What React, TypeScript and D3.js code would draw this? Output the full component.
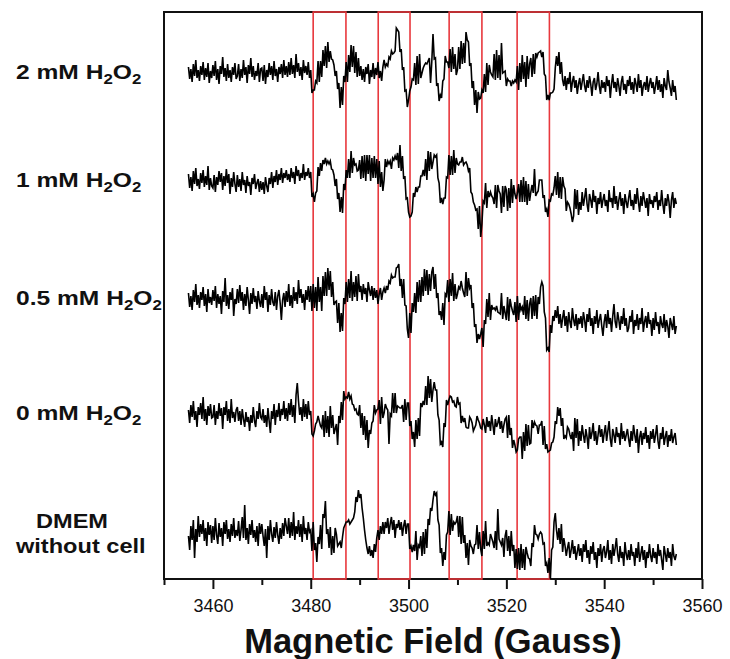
import { useEffect, useRef } from "react";
import * as d3 from "d3";

// field sampling of the spectra (Gauss)
const fieldStart = 3455;
const fieldStep = 0.25;

// stacking offset of each spectrum (a.u.)
const offsets = [0, 108, 226, 341, 460];

// intensities (a.u.), one value per 0.25 G, 3455 -> 3554.75
const spec2mM = [
  5, -7, 3, -10, 8, -4, 12, -6, 2, -9, 6, -3, 10, -8, 4, -5, 9, -11, 1, -6,
  7, -4, 11, -8, 3, -12, 6, -2, 15, -5, 4, -9, 8, -6, 2, -10, 5, -3, 9, -7,
  -4, 8, -9, 3, -6, 12, -3, 5, -11, 7, -2, 14, -5, 6, -8, 1, -4, 9, -10, 3,
  4, -9, 7, -12, 2, -5, 9, -3, 6, -8, 11, -4, 3, -10, 5, -2, 8, -6, 12, -3,
  6, -5, 10, -3, 14, -2, 7, -6, 18, 0, 9, -4, 5, -8, 12, -1, 6, -3, 10, -6,
  2, -21, -18, -18, -9, -11, 11, -10, 11, -5, 22, 6, 26, 4, 30, 10, 21, 13, 12, 7,
  -4, 1, -17, -11, -36, -15, -33, -4, -10, 10, -10, 17, 0, 27, 5, 26, -1, 20, -5, 14,
  -4, 6, -8, 3, -10, 5, -2, 8, -12, 2, -5, 9, -7, 4, -3, 10, -6, 1, -9, 5,
  12, 5, 8, 6, 15, 13, 21, 18, 19, 21, 44, 42, 40, 20, 23, 2, 5, -19, -18, -35,
  -28, -19, -15, -7, -8, 9, -13, 16, -12, 18, -6, -1, 4, 7, 9, 8, 11, 14, -11, 10,
  38, 13, 14, -14, -11, -29, -23, -26, -9, -7, 16, 10, 10, 4, 23, 0, 25, 3, 18, -3,
  2, 25, 3, 31, 8, 29, 9, 40, 32, 30, 6, 9, -16, -9, -33, -18, -41, -20, -27, -26,
  -18, -21, -2, -20, 9, -13, 7, 0, -3, -5, 18, -8, 22, -6, 17, -8, 29, -1, 0, 1,
  -14, -7, -9, -9, -14, -9, -11, -8, -10, 6, -18, 9, -10, 17, -7, 10, -15, 16, -7, 8,
  14, -5, 18, -2, 19, 15, 19, 20, 21, 15, 20, -2, -4, -28, -23, -28, -21, -21, -20, -17,
  4, 16, 6, 20, -2, 10, -8, -14, -4, -18, -6, -12, 0, -20, -10, -4, -16, -8, -22, -12,
  -6, -18, -10, -2, -14, -20, -8, -16, -4, -12, -24, -10, -6, -18, -12, 0, -14, -22, -8, -16,
  -10, -20, -4, -14, -8, -26, -12, -2, -16, -10, -20, -6, -14, -24, -10, -4, -18, -12, -22, -8,
  -14, -4, -18, -10, -22, -6, -12, -20, -2, -16, -8, -24, -14, -10, -18, -4, -20, -12, -6, -16,
  -10, -22, -14, -4, -18, -8, -20, -12, -26, -6, -14, -18, 2, -10, -16, -24, -8, -20, -14, -28,
];

const spec1mM = [
  6, -8, 3, -11, 9, -4, 12, -6, 1, -9, 7, -3, 10, -7, 4, -5, 14, -10, 2, -6,
  -8, 5, -12, 3, -5, 9, -2, 7, -10, 4, -6, 11, -3, 6, -14, 2, -7, 8, -4, -12,
  5, -7, 1, -11, 8, -5, 0, -13, 4, -6, -2, -15, 2, -4, 6, -9, -3, 1, -12, -1,
  -10, -2, -14, 3, -6, -12, 2, -4, 8, -8, 4, -2, 10, -5, 6, 0, 12, -3, 7, 2,
  10, 0, 6, -2, 12, 2, 8, -4, 14, 4, 10, -1, 7, 2, 16, 0, 8, 4, 12, 2,
  8, -17, -14, -22, -13, -11, 13, 4, 17, 9, 20, 16, 22, 16, 19, 16, 19, 11, 10, 5,
  -6, 1, -19, -13, -32, -17, -33, -4, -10, 10, 2, 21, 2, 29, 7, 22, 15, 16, 9, 10,
  20, 1, 24, 2, 25, -1, 25, 6, 25, -1, 22, 2, 24, 2, 21, -4, 19, -7, 8, -11,
  0, 21, 13, 19, 16, 19, 11, 22, 20, 24, 20, 27, 12, 35, 9, 24, 1, 4, -19, -18,
  -32, -37, -36, -32, -13, -17, -7, -12, -7, -7, 4, 4, 10, 4, 21, 0, 29, 9, 28, 11,
  18, 25, 23, 25, 2, -3, -23, -18, -24, -18, -18, 3, 2, 25, 5, 24, 5, 30, 7, 22,
  16, 15, 18, 18, 23, 15, 17, 18, 15, 9, 12, -12, -14, -22, -25, -30, -29, -49, -26, -57,
  -44, -21, -23, -3, -28, -11, -17, -12, -16, -18, -24, -5, -28, -5, -11, -14, -33, -6, -27, -6,
  -10, -31, -8, -28, 1, -23, -5, -14, -19, -13, -4, -22, 0, -22, 3, -22, -1, -25, -4, -21,
  -12, -5, -13, 11, -16, -13, -11, 0, 0, 0, -18, -15, -32, -29, -37, -20, -21, -14, -15, -8,
  4, -15, 8, -18, 3, -19, 3, -6, -9, -31, -22, -24, -28, -34, -42, -36, -9, -29, -10, -35,
  -22, -30, -12, -26, -18, -8, -24, -32, -14, -20, -28, -10, -22, -16, -34, -18, -24, -12, -28, -20,
  -14, -26, -20, -32, -10, -22, -18, -28, -6, -24, -16, -30, -20, -12, -26, -18, -34, -14, -22, -28,
  -18, -10, -26, -20, -30, -14, -24, -8, -22, -32, -16, -26, -12, -20, -28, -18, -36, -14, -24, -20,
  -28, -16, -22, -12, -30, -20, -26, -10, -24, -34, -18, -26, -14, -22, -38, -20, -12, -28, -18, -24,
];

const spec05mM = [
  5, -9, 2, -12, 8, -4, 14, -7, 3, -10, 6, -2, 11, -8, 4, -14, 9, -5, 1, -7,
  8, -3, 12, -10, 4, -6, 2, -16, 7, -4, 20, -8, 3, -11, 6, -2, 10, -18, -1, -6,
  9, -5, 13, -3, 6, -12, 4, -8, 11, -2, -16, 5, -6, 10, -4, 2, -11, 7, -3, -9,
  4, -10, 12, -2, 6, -14, 3, -7, 9, -4, -8, 6, -12, 2, 8, -5, -22, -2, 5, -9,
  7, -4, 14, -8, 3, -10, 11, -3, 6, -6, 18, 0, 9, -5, 4, -12, 8, -2, 12, -4,
  12, -13, 14, -10, 11, -13, 21, -4, 11, -13, 22, 2, 26, 2, 30, 8, 27, 1, 16, -7,
  -4, -3, -25, -5, -34, -15, -33, 0, -6, 16, -4, 19, 0, 27, -3, 16, 1, 22, -3, 24,
  6, 12, -2, 14, 4, 10, -4, 16, 8, 2, 12, -2, 10, 0, 8, -6, 4, 10, -2, 6,
  10, 5, 12, 8, 17, 15, 23, 20, 21, 21, 30, 31, 34, 12, 19, 0, 19, -7, -8, -31,
  -40, -15, -35, -5, -14, 5, -15, 16, -4, 18, -4, 21, 2, 29, 7, 28, 3, 24, 7, 26,
  31, 9, 24, 0, 5, -17, -13, -22, -5, -27, 4, 2, 18, -4, 19, 2, 25, -3, 14, -1,
  4, 11, 9, 17, 10, 5, 1, 26, 2, 20, 10, 13, -10, -5, -29, -26, -45, -36, -41, -36,
  -30, -49, -22, -26, -1, -19, 5, -22, -7, -11, -10, -12, -8, -14, -15, -16, 5, -21, -8, -15,
  -22, 1, -23, -1, -8, -13, -17, -4, -24, 2, -22, -5, -12, -9, -17, 2, -21, -2, -23, -6,
  0, -21, 2, -18, 3, -21, 1, -6, 11, 16, 12, -14, -20, -52, -50, -54, -27, -35, -18, -23,
  -12, -20, -8, -26, -16, -30, -20, -12, -28, -18, -34, -14, -24, -30, -10, -22, -28, -16, -32, -20,
  -26, -18, -30, -14, -22, -34, -16, -24, -10, -28, -20, -36, -18, -26, -12, -30, -22, -16, -28, -38,
  -24, -16, -30, -12, -26, -20, -34, -18, -6, -24, -30, -14, -22, -32, -18, -26, -10, -28, -20, -34,
  -30, -18, -24, -12, -36, -22, -28, -16, -32, -20, -26, -10, -34, -24, -18, -30, -14, -26, -22, -38,
  -20, -32, -14, -28, -24, -36, -18, -26, -30, -16, -34, -22, -28, -40, -20, -26, -32, -18, -36, -28,
];

const spec0mM = [
  3, -10, 8, -4, 12, -7, 2, -14, 6, -2, 10, -6, 16, -8, 4, -12, 7, -3, 9, -5,
  -4, 8, -12, 2, -6, 10, -3, 5, -16, 6, -2, 12, -8, 4, -10, 14, -5, 1, -9, 3,
  6, -8, 2, -12, 4, -6, -14, 1, -9, -4, -18, -2, -10, 6, -8, -14, 2, -6, 10, -4,
  -6, 4, -10, -2, -14, 5, -8, -20, 2, -6, 9, -12, 3, -4, 10, -8, 4, -2, 12, -6,
  5, -8, 10, -2, 14, -4, 8, -10, 18, 30, 12, -2, 6, -8, 14, -4, 9, -6, 12, -2,
  2, -21, -23, -18, -11, -9, -3, -8, -13, -15, -2, -24, 2, -20, -3, -24, 7, -15, -2, -21,
  -16, -11, -32, -3, -10, 11, -7, 22, 14, 16, 15, 21, 14, 17, 9, 8, 3, 4, -1, -2,
  8, -15, 0, -22, -3, -27, -7, -35, -17, -21, -10, -8, 8, 0, 3, 4, 13, -11, 16, -5,
  0, 9, 5, 3, -31, -1, -3, 20, 0, 20, 0, 7, 6, 5, 5, 8, -9, 14, -7, 10,
  10, -13, -8, -26, -19, -34, -7, -26, -5, -23, 10, 6, 12, 8, 27, 8, 37, 15, 34, 11,
  23, 31, 23, 23, -2, -7, -31, -29, -34, -10, -14, 13, 8, 13, 17, 16, 11, 12, 7, 6,
  16, 9, 10, -10, -3, -9, -5, -14, -15, -15, -4, -6, -10, -18, -15, -12, -3, -7, -10, -15,
  -16, -6, -12, -20, -4, -14, -8, -18, -2, -12, -22, -6, -14, -10, -4, -16, -8, -20, -12, -6,
  -4, -25, -2, -22, -15, -35, -27, -32, -39, -37, -26, -24, -24, -46, -19, -38, -11, -33, -12, -31,
  -30, -7, -15, -9, -12, -13, -21, -12, -12, -8, -32, -13, -36, -31, -39, -38, -37, -30, -29, -24,
  -8, -11, 6, -3, 5, -13, -5, -26, -23, -25, -14, -16, -22, -26, -19, -38, -5, -25, -6, -33,
  -18, -28, -12, -22, -30, -16, -24, -36, -14, -26, -20, -10, -28, -18, -32, -22, -12, -24, -16, -30,
  -20, -12, -28, -18, -8, -26, -34, -16, -22, -30, -14, -24, -20, -32, -10, -26, -18, -28, -22, -16,
  -26, -34, -18, -28, -12, -22, -30, -16, -40, -24, -18, -32, -20, -26, -14, -30, -22, -36, -18, -26,
  -16, -30, -22, -12, -28, -36, -20, -26, -14, -32, -24, -18, -34, -22, -28, -16, -30, -24, -20, -32,
];

const specDMEM = [
  -4, -18, 6, -8, 12, -26, 3, -10, 16, -5, 8, -2, 12, -9, 4, -14, 10, -3, 7, -11,
  6, -8, 14, -3, -12, 9, -5, 4, -14, 10, -2, 12, -7, 3, -10, 8, -4, 14, -6, 2,
  -4, 11, -9, 2, 15, -6, 27, -8, 4, -12, 8, -3, 12, -6, 2, -10, 6, -14, 9, -2,
  8, -4, -14, 3, -26, 6, -8, 12, -2, -10, 5, -6, 10, -3, -12, 4, -7, 9, -4, 14,
  6, -2, 14, -6, 10, -4, 20, -8, 6, -2, 12, -5, 8, -10, 16, -2, 4, -8, 10, 0,
  2, -19, 10, -18, -11, -30, -5, -12, 7, -17, 18, 14, 31, -2, 3, -16, 5, -23, -4, -21,
  4, -2, -14, -12, -10, -16, -5, 4, 7, 10, 10, 12, 8, 10, 12, 14, 20, 35, 30, 42,
  34, 38, 24, 14, 2, -8, -16, -22, -14, -24, -18, -26, -12, -20, -6, 2, -8, 6, -2, 10,
  -2, 10, 4, 14, -2, 8, 15, 2, 12, -6, 8, 4, 12, 2, 10, -4, 6, 12, -2, 8,
  8, -17, -14, -20, -13, -19, 1, -28, -13, -15, -4, -24, 0, -22, 3, -16, 13, 7, 24, 21,
  32, 41, 37, 39, 12, 7, -21, -16, -34, -20, -28, -3, 0, 21, -3, 18, 1, 10, 8, 10,
  16, -5, 16, -12, 15, -11, -3, -26, -11, -33, -8, -14, -16, -22, -13, -12, 7, -17, 0, -17,
  -24, 1, -17, 11, -14, -11, -13, -2, -6, -10, -16, 1, -18, 23, -7, -10, -13, -6, -25, -4,
  2, -19, -4, -24, 1, -19, -13, -36, -17, -37, -16, -38, -12, -36, -17, -38, -15, -21, -26, -27,
  -34, -11, -15, 7, -2, -3, -7, -2, 0, -2, -12, -11, -34, -31, -41, -26, -47, -18, -15, 10,
  19, 2, -8, 4, -12, 8, -20, -6, -14, -24, -16, -10, -26, -18, -8, -22, -14, -28, -20, -12,
  -24, -16, -30, -12, -20, -8, -26, -18, -32, -14, -22, -10, -28, -20, -36, -16, -24, -12, -30, -18,
  -14, -26, -20, -8, -28, -18, -32, -12, -24, -16, -6, -22, -30, -14, -26, -20, -34, -10, -22, -28,
  -18, -28, -12, -24, -20, -34, -16, -26, -10, -30, -22, -14, -28, -18, -36, -20, -26, -12, -24, -30,
  -16, -26, -20, -32, -12, -24, -18, -28, -38, -14, -22, -30, -16, -26, -20, -34, -12, -24, -28, -22,
];

const spectra = [spec2mM, spec1mM, spec05mM, spec0mM, specDMEM];
const concentrations = ["2 mM", "1 mM", "0.5 mM", "0 mM", null];

// highlighted field windows (Gauss)
const regions = [
  [3480.5, 3487.2],
  [3493.8, 3500.3],
  [3508.3, 3515.0],
  [3522.2, 3528.8],
];

const majorTicks = [3460, 3480, 3500, 3520, 3540, 3560];
const minorTicks = [3450, 3470, 3490, 3510, 3530, 3550];

function EprChart({ width, height }: { width: number; height: number }) {
  const ref = useRef<SVGSVGElement>(null);

  useEffect(() => {
    const margin = { left: 164, top: 12, right: 28, bottom: 80 };
    const el = d3.select(ref.current);
    el.selectAll("*").remove();

    const x = d3
      .scaleLinear()
      .domain([3450, 3560])
      .range([margin.left, width - margin.right]);
    const y = d3
      .scaleLinear()
      .domain([60, -507])
      .range([margin.top, height - margin.bottom]);

    const bottom = height - margin.bottom;
    const font = "Arial, 'Liberation Sans', sans-serif";

    // frame
    el.append("rect")
      .attr("x", x(3450))
      .attr("y", margin.top)
      .attr("width", x(3560) - x(3450))
      .attr("height", bottom - margin.top)
      .attr("fill", "none")
      .attr("stroke", "#111")
      .attr("stroke-width", 2);

    // x-axis ticks
    const major = el
      .append("g")
      .attr("transform", `translate(0, ${bottom})`)
      .call(d3.axisBottom(x).tickValues(majorTicks).tickSize(10).tickPadding(10).tickFormat(d3.format("d")));
    const minor = el
      .append("g")
      .attr("transform", `translate(0, ${bottom})`)
      .call(d3.axisBottom(x).tickValues(minorTicks).tickSize(6).tickFormat(() => ""));
    for (const g of [major, minor]) {
      g.select(".domain").remove();
      g.selectAll("line").attr("stroke", "#111").attr("stroke-width", 2);
    }
    major
      .selectAll("text")
      .attr("font-family", font)
      .attr("font-size", 18)
      .attr("fill", "#111");

    // axis title
    el.append("text")
      .attr("x", (x(3450) + x(3560)) / 2)
      .attr("y", 653)
      .attr("text-anchor", "middle")
      .attr("font-family", font)
      .attr("font-weight", "bold")
      .attr("font-size", 34.5)
      .attr("fill", "#111")
      .text("Magnetic Field (Gauss)");

    // red boxes
    el.append("g")
      .selectAll("rect")
      .data(regions)
      .enter()
      .append("rect")
      .attr("x", (d) => x(d[0]))
      .attr("y", margin.top)
      .attr("width", (d) => x(d[1]) - x(d[0]))
      .attr("height", bottom - margin.top)
      .attr("fill", "none")
      .attr("stroke", "#e8383d")
      .attr("stroke-width", 1.6);

    // spectra
    spectra.forEach((values, i) => {
      const line = d3
        .line<number>()
        .x((_, j) => x(fieldStart + j * fieldStep))
        .y((v) => y(v - offsets[i]));
      el.append("path")
        .datum(values)
        .attr("d", line)
        .attr("fill", "none")
        .attr("stroke", "#000")
        .attr("stroke-width", 1.6)
        .attr("stroke-linejoin", "miter");
    });

    // labels
    concentrations.forEach((c, i) => {
      const base = y(-offsets[i]);
      if (c) {
        const t = el
          .append("text")
          .attr("transform", `translate(16, ${base + 7}) scale(1.2, 1)`)
          .attr("font-family", font)
          .attr("font-weight", "bold")
          .attr("font-size", 20.5)
          .attr("fill", "#111");
        t.append("tspan").text(`${c} H`);
        t.append("tspan").attr("font-size", 14).attr("dy", 5).text("2");
        t.append("tspan").attr("dy", -5).text("O");
        t.append("tspan").attr("font-size", 14).attr("dy", 5).text("2");
      } else {
        for (const [txt, dy] of [["DMEM", -4], ["without cell", 21]] as [string, number][]) {
          el.append("text")
            .attr("transform", `translate(${txt === "DMEM" ? 72 : 16}, ${base + dy}) scale(1.15, 1)`)
            .attr("text-anchor", txt === "DMEM" ? "middle" : "start")
            .attr("font-family", font)
            .attr("font-weight", "bold")
            .attr("font-size", 20.5)
            .attr("fill", "#111")
            .text(txt);
        }
      }
    });
  }, [width, height]);

  return (
    <svg
      ref={ref}
      width={width}
      height={height}
      style={{ position: "absolute", left: 0, top: 0, background: "#fff" }}
    />
  );
}

export default function App() {
  return <EprChart width={730} height={659} />;
}
